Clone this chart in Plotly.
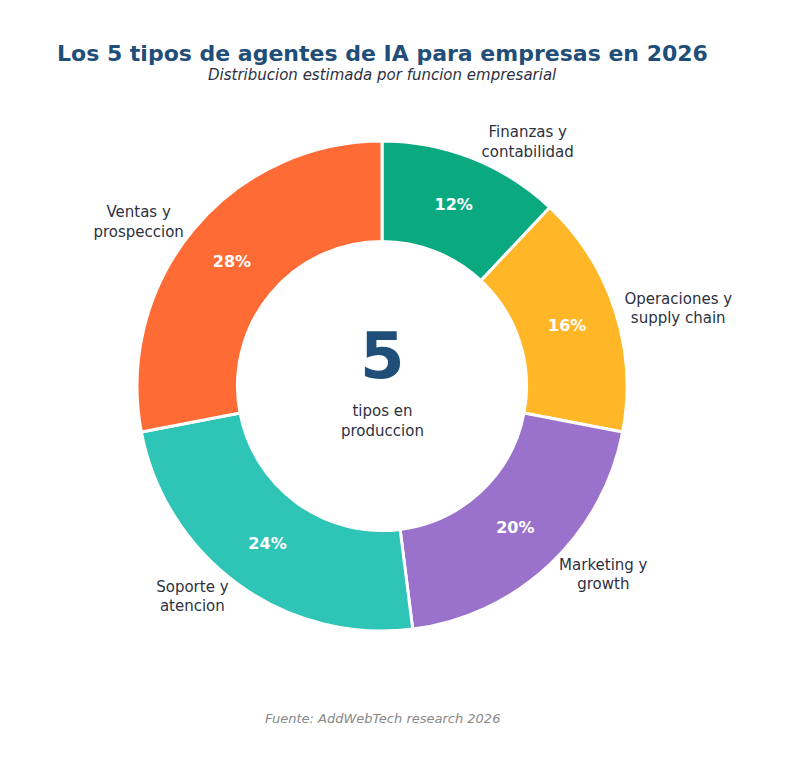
import plotly.graph_objects as go

labels = ["Finanzas y<br>contabilidad", "Operaciones y<br>supply chain", "Marketing y<br>growth", "Soporte y<br>atencion", "Ventas y<br>prospeccion"]
values = [12, 16, 20, 24, 28]
colors = ["#0BA97F", "#FFB627", "#9B72CB", "#2EC4B6", "#FF6B35"]

dom = dict(x=[129/793, 619/793], y=[1-623/770, 1-133/770])
fig = go.Figure()
fig.add_trace(go.Pie(values=values, labels=labels, sort=False, direction="clockwise", rotation=0,
                     hole=0.59, domain=dom, marker=dict(colors=colors, line=dict(color="white", width=3)),
                     texttemplate="<b>%{value}%</b>", textposition="inside", insidetextorientation="horizontal",
                     textfont=dict(color="white", size=16, family="DejaVu Sans"), hoverinfo="skip", showlegend=False))
fig.add_trace(go.Pie(values=values, labels=labels, sort=False, direction="clockwise", rotation=0,
                     hole=0.59, domain=dom, marker=dict(colors=["rgba(0,0,0,0)"]*5),
                     texttemplate="%{label}", textposition="outside",
                     textfont=dict(color="#2d3142", size=15, family="DejaVu Sans"), hoverinfo="skip", showlegend=False))
fig.update_layout(width=793, height=770, margin=dict(l=0, r=0, t=0, b=0), paper_bgcolor="white",
                  font=dict(family="DejaVu Sans"))
A = lambda **k: fig.add_annotation(xref="paper", yref="paper", showarrow=False, **k)
cx = 374/793
A(x=cx, y=1-31/770, text="<b>Los 5 tipos de agentes de IA para empresas en 2026</b>", font=dict(size=22, color="#1F4E79"))
A(x=cx, y=1-56/770, text="<i>Distribucion estimada por funcion empresarial</i>", font=dict(size=15, color="#2d3142"))
A(x=cx, y=1-348/770, text="<b>5</b>", font=dict(size=64, color="#1F4E79"))
A(x=cx, y=1-413/770, text="tipos en<br>produccion", font=dict(size=15, color="#2d3142"))
A(x=cx, y=1-720/770, text="<i>Fuente: AddWebTech research 2026</i>", font=dict(size=13, color="#888888"))
fig.write_html("out.html")
